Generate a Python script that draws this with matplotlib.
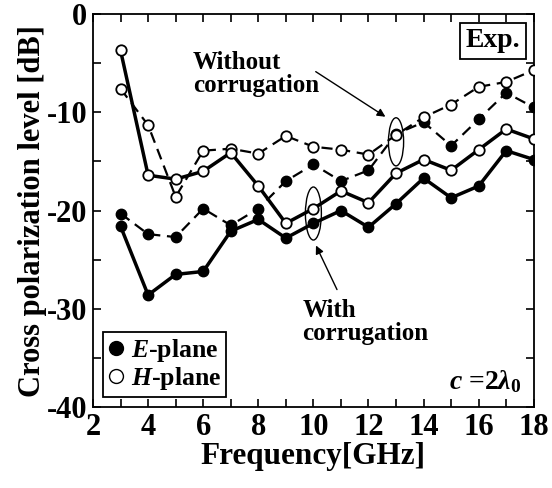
import matplotlib
matplotlib.use('Agg')
import matplotlib.pyplot as plt
from matplotlib.patches import Ellipse
from matplotlib.ticker import MultipleLocator

plt.rcParams['font.family'] = 'Liberation Serif'
plt.rcParams['font.weight'] = 'bold'
plt.rcParams['axes.unicode_minus'] = False
plt.rcParams['mathtext.fontset'] = 'custom'
plt.rcParams['mathtext.rm'] = 'Liberation Serif:bold'
plt.rcParams['mathtext.it'] = 'Liberation Serif:italic:bold'

freq = [3, 4, 5, 6, 7, 8, 9, 10, 11, 12, 13, 14, 15, 16, 17, 18]

# with corrugation (solid lines)
e_with = [-21.6, -28.6, -26.5, -26.2, -22.1, -20.9, -22.8, -21.3, -20.0, -21.7,
          -19.3, -16.7, -18.7, -17.5, -13.9, -14.8]
h_with = [-3.7, -16.4, -16.8, -16.0, -14.1, -17.5, -21.3, -19.8, -18.0, -19.2,
          -16.2, -14.8, -15.9, -13.8, -11.7, -12.7]

# without corrugation (dashed lines)
e_without = [-20.3, -22.4, -22.7, -19.8, -21.5, -19.8, -17.0, -15.3, -17.0, -15.9,
             -12.2, -11.0, -13.4, -10.7, -8.0, -9.5]
h_without = [-7.6, -11.3, -18.6, -13.9, -13.7, -14.2, -12.4, -13.5, -13.8, -14.3,
             -12.3, -10.5, -9.2, -7.4, -6.9, -5.7]

fig = plt.figure(figsize=(5.52, 4.88), dpi=100)
ax = fig.add_axes([0.1685, 0.166, 0.7985, 0.805])

ax.plot(freq, e_without, color='black', linestyle=(0, (5, 3)), linewidth=1.6,
        marker='o', markersize=7.5, markerfacecolor='black', markeredgecolor='black', zorder=3)
ax.plot(freq, h_without, color='black', linestyle=(0, (5, 3)), linewidth=1.6,
        marker='o', markersize=7.5, markerfacecolor='white', markeredgecolor='black',
        markeredgewidth=1.3, zorder=3)
ax.plot(freq, e_with, color='black', linestyle='-', linewidth=2.5,
        marker='o', markersize=7.5, markerfacecolor='black', markeredgecolor='black', zorder=4)
ax.plot(freq, h_with, color='black', linestyle='-', linewidth=2.5,
        marker='o', markersize=7.5, markerfacecolor='white', markeredgecolor='black',
        markeredgewidth=1.3, zorder=4)

ax.set_xlim(2, 18)
ax.set_ylim(-40, 0)
ax.xaxis.set_major_locator(MultipleLocator(2))
ax.xaxis.set_minor_locator(MultipleLocator(1))
ax.yaxis.set_major_locator(MultipleLocator(10))
ax.yaxis.set_minor_locator(MultipleLocator(5))
ax.tick_params(which='both', direction='in', top=True, right=True, width=1.2)
ax.tick_params(which='major', length=6, labelsize=22, pad=4)
ax.tick_params(which='minor', length=6)
for s in ax.spines.values():
    s.set_linewidth(1.3)

ax.set_xlabel('Frequency[GHz]', fontsize=22.5, fontweight='bold', labelpad=0)
ax.set_ylabel('Cross polarization level [dB]', fontsize=22, fontweight='bold', labelpad=0)

# annotations
ax.add_patch(Ellipse((13.0, -13.0), 0.55, 4.9, fill=False, edgecolor='black', linewidth=1.0, zorder=5))
ax.add_patch(Ellipse((10.0, -20.3), 0.58, 5.4, fill=False, edgecolor='black', linewidth=1.0, zorder=5))
ax.annotate('', xy=(12.7, -10.6), xytext=(10.0, -5.7),
            arrowprops=dict(arrowstyle='-|>', color='black', lw=1.0, mutation_scale=12))
ax.annotate('', xy=(10.05, -23.3), xytext=(10.9, -28.3),
            arrowprops=dict(arrowstyle='-|>', color='black', lw=1.0, mutation_scale=12))
ax.text(5.62, -6.1, 'Without\ncorrugation', fontsize=18, fontweight='bold',
        ha='left', va='center', linespacing=1.0)
ax.text(9.6, -31.3, 'With\ncorrugation', fontsize=18, fontweight='bold',
        ha='left', va='center', linespacing=1.0)
ax.text(16.51, -2.7, 'Exp.', fontsize=20, fontweight='bold', ha='center', va='center',
        bbox=dict(boxstyle='square,pad=0.2', facecolor='white', edgecolor='black', linewidth=1.3))
ax.text(17.55, -37.4, r'$c$ =2$\mathit{\lambda}_\mathit{0}$', fontsize=20, ha='right', va='center')

e_handle, = ax.plot([], [], linestyle='none', marker='o', markersize=10,
                    markerfacecolor='black', markeredgecolor='black')
h_handle, = ax.plot([], [], linestyle='none', marker='o', markersize=10,
                    markerfacecolor='white', markeredgecolor='black')
leg = ax.legend([e_handle, h_handle], [r'$E$-plane', r'$H$-plane'], loc='lower left',
                bbox_to_anchor=(0.022, 0.025), fontsize=18.5, handlelength=0.6, handletextpad=0.3,
                borderpad=0.2, labelspacing=0.05, fancybox=False, framealpha=1,
                edgecolor='black', borderaxespad=0)
leg.get_frame().set_linewidth(1.3)

fig.savefig('out.png', dpi=100)
